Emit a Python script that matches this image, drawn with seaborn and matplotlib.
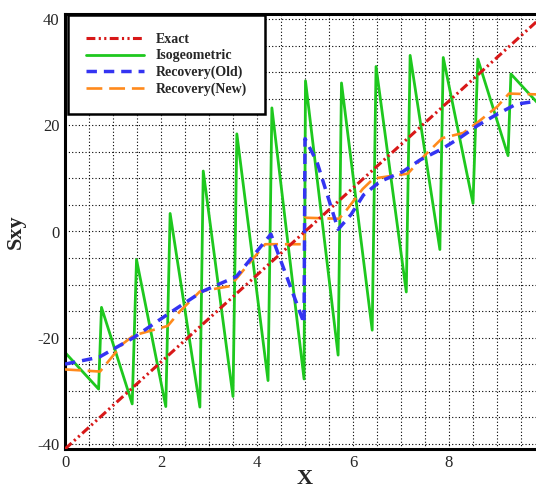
import matplotlib
matplotlib.use('Agg')
import matplotlib.pyplot as plt
import numpy as np
import seaborn as sns

# values
exact_x = [0.0, 10.0]
exact_y = [-41.0, 41.0]

iso_x = [0.00, 0.70, 0.76, 1.40, 1.49, 2.10, 2.19, 2.81, 2.88, 3.50, 3.58, 4.23, 4.31,
         4.98, 5.01, 5.69, 5.76, 6.40, 6.48, 7.11, 7.19, 7.81, 7.88, 8.50, 8.60, 9.23,
         9.29, 10.0]
iso_y = [-22.8, -29.7, -14.3, -32.5, -5.3, -33.0, 3.4, -33.1, 11.4, -31.1, 18.4, -28.1, 23.3,
         -27.8, 28.4, -23.3, 28.0, -18.6, 31.1, -11.4, 33.2, -3.4, 32.8, 5.3, 32.5, 14.3,
         29.7, 22.7]

old_x = [0.0, 0.71, 1.43, 2.14, 2.86, 3.57, 4.29, 4.98, 5.0, 5.25, 5.69, 5.96, 6.22, 6.56,
         7.04, 7.4, 7.86, 8.25, 8.6, 9.0, 9.4, 9.7, 10.0]
old_y = [-25.0, -23.7, -20.0, -15.6, -11.3, -8.5, -0.5, -17.3, 17.5, 13.1, 0.4, 3.2, 6.9, 9.4,
         11.3, 13.5, 15.6, 17.8, 20.0, 22.1, 24.0, 24.4, 24.8]

new_x = [0.0, 0.73, 1.2, 1.43, 2.14, 2.4, 2.81, 3.44, 4.17, 4.98, 5.0, 5.71, 5.87, 6.2, 6.43,
         7.14, 7.5, 7.86, 8.3, 8.6, 9.0, 9.25, 10.0]
new_y = [-26.0, -26.4, -21.2, -19.6, -17.8, -15.0, -11.3, -10.3, -2.4, -2.4, 2.6, 2.4, 4.1,
         8.0, 10.0, 10.9, 14.4, 17.6, 18.6, 20.6, 23.5, 26.0, 25.8]

x_ticks = [0, 2, 4, 6, 8]
y_ticks = [-40, -20, 0, 20, 40]

sns.set_theme(style='white')
plt.rcParams['font.family'] = ['Liberation Serif', 'DejaVu Serif']
plt.rcParams['axes.unicode_minus'] = False

fig = plt.figure(figsize=(5.36, 4.86), dpi=100)
ax = fig.add_axes([65 / 536, 37 / 486, 480 / 536, 435 / 486])

sns.lineplot(x=exact_x, y=exact_y, ax=ax, estimator=None, sort=False, color='#d81818',
             lw=2.2, linestyle=(0, (2.9, 1.1, 0.7, 1.1, 0.7, 1.1)), label='Exact', zorder=5)
sns.lineplot(x=iso_x, y=iso_y, ax=ax, estimator=None, sort=False, color='#1ec81e',
             lw=2.0, label='Isogeometric', zorder=2)
sns.lineplot(x=old_x, y=old_y, ax=ax, estimator=None, sort=False, color='#3434f2',
             lw=2.5, linestyle=(0, (3.0, 2.0)), label='Recovery(Old)', zorder=4)
sns.lineplot(x=new_x, y=new_y, ax=ax, estimator=None, sort=False, color='#ff8a1c',
             lw=1.9, linestyle=(0, (6, 2.6)), label='Recovery(New)', zorder=3)

ax.set_xlim(0, 10)
ax.set_ylim(-41, 41)
ax.set_xticks(x_ticks)
ax.set_yticks(y_ticks)
ax.set_xticks(np.arange(0, 10.01, 0.5), minor=True)
ax.set_yticks(np.arange(-40, 41, 5), minor=True)
ax.grid(which='both', color='black', linestyle=(0, (1, 2)), linewidth=0.8)
ax.tick_params(which='both', length=0, labelsize=12, pad=4)

for side in ['left', 'bottom', 'top', 'right']:
    ax.spines[side].set_color('black')
    ax.spines[side].set_linewidth(2.2)

ax.set_xlabel('X', fontsize=16, fontweight='bold', labelpad=-1)
ax.set_ylabel('Sxy', fontsize=16, fontweight='bold', labelpad=8)

leg = ax.legend(loc='upper left', bbox_to_anchor=(0.006, 0.998), borderaxespad=0,
                prop={'weight': 'bold', 'size': 10}, handlelength=4.2, handletextpad=0.8,
                labelspacing=0.25, borderpad=1.3, frameon=True, fancybox=False)
leg.get_frame().set_edgecolor('black')
leg.get_frame().set_linewidth(1.8)
leg.get_frame().set_alpha(1)

fig.savefig('out.png', dpi=100)
